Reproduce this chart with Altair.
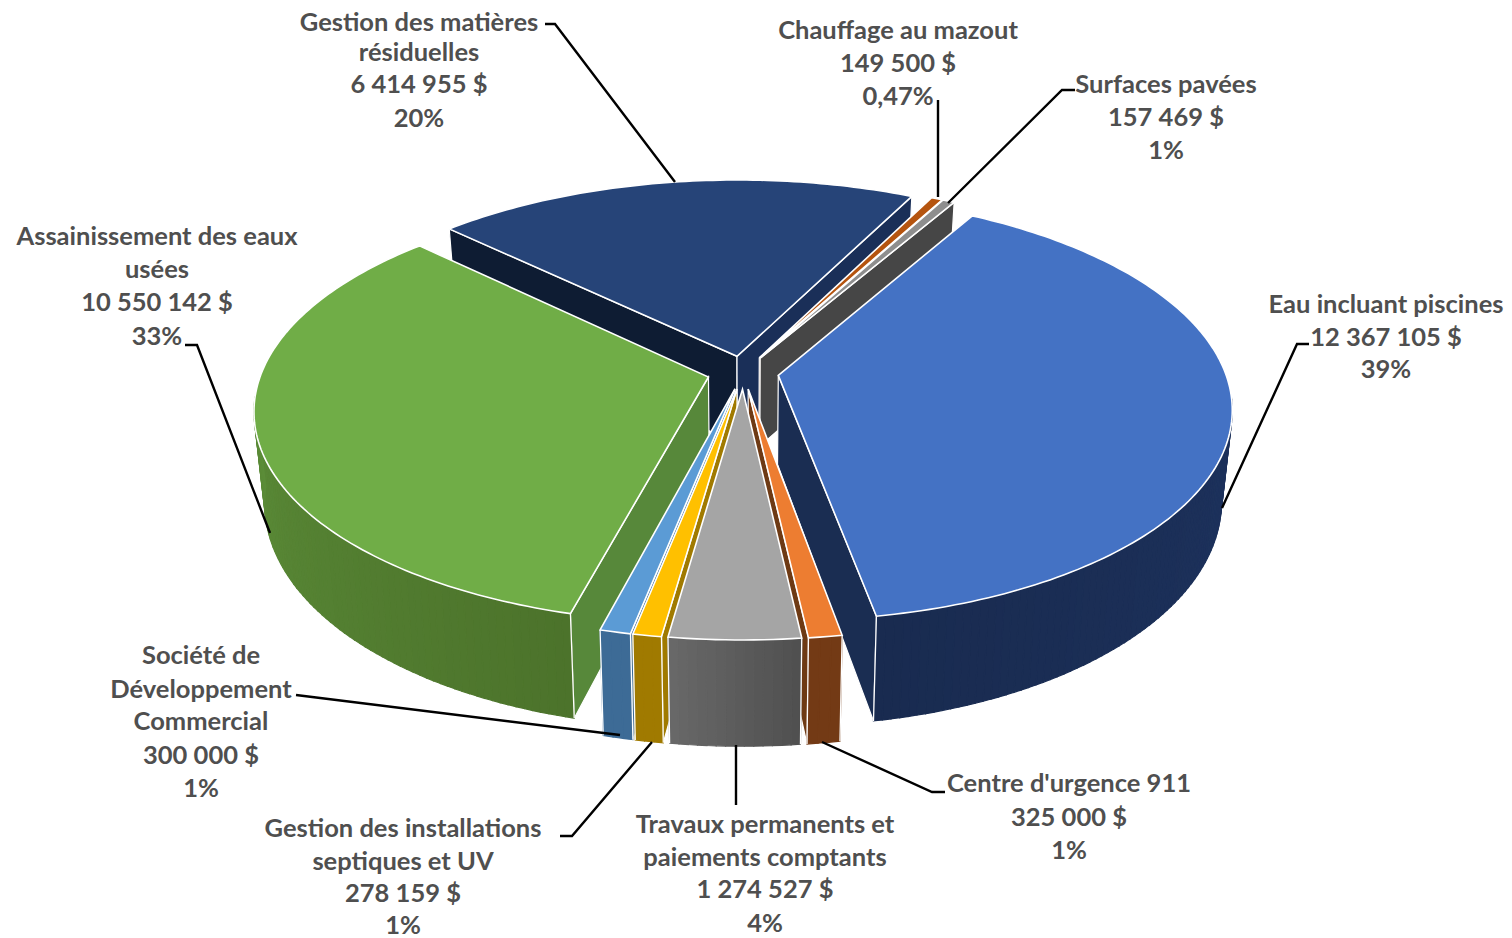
import math
import altair as alt

# ---- data ----
names = ["Eau incluant piscines", "Centre d'urgence 911", "Travaux permanents et paiements comptants",
         "Gestion des installations septiques et UV", "Société de Développement Commercial",
         "Assainissement des eaux usées", "Gestion des matières résiduelles",
         "Chauffage au mazout", "Surfaces pavées"]
values = [12367105, 325000, 1274527, 278159, 300000, 10550142, 6414955, 149500, 157469]
amounts = ["12 367 105 $", "325 000 $", "1 274 527 $", "278 159 $", "300 000 $",
           "10 550 142 $", "6 414 955 $", "149 500 $", "157 469 $"]
percents = ["39%", "1%", "4%", "1%", "1%", "33%", "20%", "0,47%", "1%"]
name_lines = [["Eau incluant piscines"], ["Centre d'urgence 911"],
              ["Travaux permanents et", "paiements comptants"],
              ["Gestion des installations", "septiques et UV"],
              ["Société de", "Développement", "Commercial"],
              ["Assainissement des eaux", "usées"],
              ["Gestion des matières", "résiduelles"],
              ["Chauffage au mazout"], ["Surfaces pavées"]]

# ---- styling ----
top_colors = ["#4472C4", "#ED7D31", "#A5A5A5", "#FFC000", "#5B9BD5", "#70AD47", "#264478", "#B5540F", "#8E8E8E"]
wall_a = ["#21396A", "#733A15", "#505050", "#A07A00", "#3D6B96", "#4C732B", "#1A2F58", "#7A3C0C", "#464646"]
wall_b = ["#192B50", "#733A15", "#686868", "#A07A00", "#3D6B96", "#669E41", "#1A2F58", "#7A3C0C", "#464646"]
cut_start = ["#1A2D52", "#6E3A14", "#5A5A5A", "#A07A00", "#3D6B96", "#57883A", "#0E1C33", "#7A3C0C", "#464646"]
cut_end = ["#1A2D52", "#6E3A14", "#5A5A5A", "#B08600", "#3D6B96", "#57883A", "#1A2F58", "#7A3C0C", "#464646"]
draw_order = [6, 7, 8, 5, 0, 4, 3, 1, 2]

# ---- pie geometry (perspective view) ----
CX, CY, R, A, P, H, TAPER, EXPLODE, START = 743, 372.5, 447, 207.4, 0.1505, 89, 0.022, 0.08, 30.0


def project(x, y, z=0.0):
    w = 1 - P * y
    return [CX + R * x / w * (1 - TAPER * z), CY + (A * y + H * z) / w]


def mix(c1, c2, t):
    a = [int(c1[i:i + 2], 16) for i in (1, 3, 5)]
    b = [int(c2[i:i + 2], 16) for i in (1, 3, 5)]
    return "#%02x%02x%02x" % tuple(round(a[i] + (b[i] - a[i]) * t) for i in range(3))


def feature(points, fill, stroke, sw):
    return {"type": "Feature",
            "geometry": {"type": "Polygon", "coordinates": [points + [points[0]]]},
            "properties": {"fill": fill, "stroke": stroke, "sw": sw}}


total = sum(values)
slices = []
angle = START
for v in values:
    span = v / total * 360
    slices.append((angle, angle + span))
    angle += span

features = []
for i in draw_order:
    a0, a1 = slices[i]
    mid = math.radians((a0 + a1) / 2)
    ax, ay = EXPLODE * math.sin(mid), -EXPLODE * math.cos(mid)
    n = max(2, int(a1 - a0))
    thetas = [math.radians(a0 + (a1 - a0) * k / n) for k in range(n + 1)]
    rim = [(ax + math.sin(t), ay - math.cos(t)) for t in thetas]
    # cut faces that look towards the viewer
    if math.sin(thetas[0]) < 0:
        rx, ry = rim[0]
        features.append(feature([project(ax, ay), project(rx, ry), project(rx, ry, 1), project(ax, ay, 1)],
                                cut_start[i], "#ffffff", 1.2))
    if math.sin(thetas[-1]) > 0:
        rx, ry = rim[-1]
        features.append(feature([project(ax, ay), project(rx, ry), project(rx, ry, 1), project(ax, ay, 1)],
                                cut_end[i], "#ffffff", 1.2))
    # outer wall, shaded strip by strip, front part only
    for k in range(n):
        if -math.cos(thetas[k]) < 0.1 and -math.cos(thetas[k + 1]) < 0.1:
            continue
        col = mix(wall_a[i], wall_b[i], k / max(1, n - 1))
        p, q = rim[k], rim[k + 1]
        features.append(feature([project(*p), project(*q), project(*q, 1), project(*p, 1)], col, col, 1.2))
    # white vertical edges where the wall stops
    for t, p in ((thetas[0], rim[0]), (thetas[-1], rim[-1])):
        if -math.cos(t) > 0.1:
            features.append(feature([project(*p), project(*p, 1)], "transparent", "#ffffff", 1.3))
    # top face
    features.append(feature([project(ax, ay)] + [project(*p) for p in rim], top_colors[i], "#ffffff", 1.6))

W, H_PX = 1496, 930
xs = alt.Scale(domain=[8, 8 + W], range=[0, W])
ys = alt.Scale(domain=[8, 8 + H_PX], range=[0, H_PX])

pie = alt.Chart(alt.Data(values=features)).mark_geoshape().encode(
    fill=alt.Fill("properties.fill:N", scale=None),
    stroke=alt.Stroke("properties.stroke:N", scale=None),
    strokeWidth=alt.StrokeWidth("properties.sw:Q", scale=None),
).project(type="identity", scale=1, translate=[-8, -8])

# ---- labels ----
label_x = [1386, 1069, 765, 403, 201, 157, 419, 898, 1166]
label_y = [[305, 338, 370], [784, 818, 851], [825, 858, 890, 924], [829, 862, 894, 926],
           [656, 690, 722, 756, 789], [237, 270, 303, 337], [23, 53, 85, 119], [31, 64, 97], [85, 118, 151]]
rows = []
for i in range(len(names)):
    lines = name_lines[i] + [amounts[i], percents[i]]
    for txt, y in zip(lines, label_y[i]):
        rows.append({"x": label_x[i], "y": y, "t": txt})

text = alt.Chart(alt.Data(values=rows)).mark_text(
    font="Lato", fontWeight="bold", fontSize=25.5, color="#4F4F4F", align="center", baseline="middle"
).encode(x=alt.X("x:Q", scale=xs, axis=None), y=alt.Y("y:Q", scale=ys, axis=None), text="t:N")

# ---- leader lines ----
leaders = [[(1309, 344), (1297, 344), (1222, 508)], [(945, 792), (932, 792), (822, 742)],
           [(736, 745), (736, 805)], [(560, 836), (572, 836), (652, 742)], [(296, 695), (620, 735)],
           [(185, 345), (197, 345), (270, 533)], [(545, 24), (555, 24), (675, 182)],
           [(938, 100), (938, 197)], [(1075, 90), (1062, 90), (948, 203)]]
lrows = []
for i, pts in enumerate(leaders):
    for k, (x, y) in enumerate(pts):
        lrows.append({"s": i, "k": k, "x": x, "y": y})

lines = alt.Chart(alt.Data(values=lrows)).mark_line(color="#000000", strokeWidth=2.4).encode(
    x=alt.X("x:Q", scale=xs, axis=None), y=alt.Y("y:Q", scale=ys, axis=None),
    detail="s:N", order="k:Q")

chart = alt.layer(pie, lines, text).resolve_scale(x="shared", y="shared").properties(
    width=W, height=H_PX, padding=0, autosize=alt.AutoSizeParams(type="none"),
    background="#ffffff"
).configure_view(stroke=None)

chart.save("out.html", embed_options={"renderer": "svg", "actions": False})
